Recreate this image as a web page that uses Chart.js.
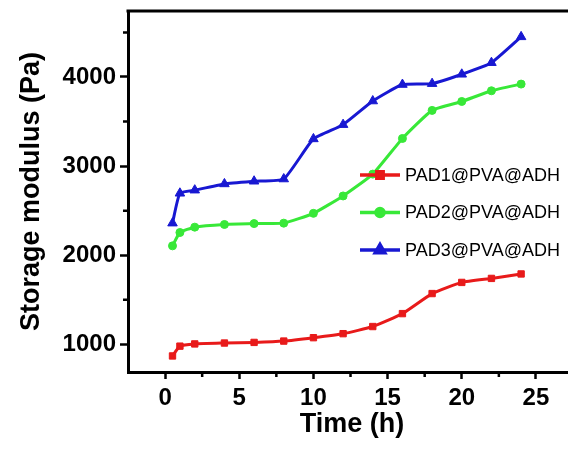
<!DOCTYPE html>
<html>
<head>
<meta charset="utf-8">
<script src="https://cdn.jsdelivr.net/npm/chart.js@4"></script>
<style>
  html, body { margin: 0; padding: 0; background: #fff; overflow: hidden; }
  canvas { display: block; }
</style>
</head>
<body>
<canvas id="myChart" width="620" height="450"></canvas>
<script>
  const time = [0.5, 1, 2, 4, 6, 8, 10, 12, 14, 16, 18, 20, 22, 24];
  const pad1 = [870, 980, 1005, 1015, 1022, 1037, 1075, 1120, 1200, 1345, 1570, 1695, 1740, 1790];
  const pad2 = [2105, 2255, 2315, 2345, 2355, 2360, 2470, 2665, 2910, 3310, 3625, 3725, 3845, 3920];
  const pad3 = [2360, 2695, 2730, 2800, 2830, 2855, 3305, 3465, 3730, 3915, 3925, 4030, 4160, 4450];
  const seriesNames = ['PAD1@PVA@ADH', 'PAD2@PVA@ADH', 'PAD3@PVA@ADH'];
  const xTicks = [0, 5, 10, 15, 20, 25];
  const yTicks = [1000, 2000, 3000, 4000];

  const toPts = (ys) => time.map((t, i) => ({ x: t, y: ys[i] }));

  // minor ticks + top/right frame + legend in the middle of the plot
  const extras = {
    id: 'extras',
    afterDraw(chart) {
      const { ctx, chartArea: a, scales: { x, y } } = chart;
      ctx.save();
      ctx.fillStyle = '#000';
      ctx.fillRect(a.left - 1.5, a.top - 1.5, a.right - a.left + 3, 3);
      ctx.fillRect(a.right - 1.5, a.top - 1.5, 3, a.bottom - a.top + 3);

      ctx.strokeStyle = '#000';
      ctx.lineWidth = 2.5;
      ctx.beginPath();
      xTicks.forEach(v => {
        const m = v + 2.5;
        if (m <= x.max) {
          const px = x.getPixelForValue(m);
          ctx.moveTo(px, a.bottom);
          ctx.lineTo(px, a.bottom + 5);
        }
      });
      yTicks.forEach(v => {
        const m = v + 500;
        if (m <= y.max) {
          const py = y.getPixelForValue(m);
          ctx.moveTo(a.left, py);
          ctx.lineTo(a.left - 5, py);
        }
      });
      ctx.stroke();

      // legend
      const lx = 360, rows = [175, 212.5, 250];
      ctx.font = '18px "Liberation Sans", Arial, sans-serif';
      ctx.textBaseline = 'middle';
      chart.data.datasets.forEach((ds, i) => {
        const yy = rows[i];
        ctx.strokeStyle = ds.borderColor;
        ctx.lineWidth = 3.5;
        ctx.beginPath();
        ctx.moveTo(lx, yy);
        ctx.lineTo(lx + 40, yy);
        ctx.stroke();
        ctx.fillStyle = ds.pointBackgroundColor;
        ctx.strokeStyle = ds.borderColor;
        Chart.helpers.drawPoint(ctx, {
          pointStyle: ds.pointStyle, radius: ds.pointRadius, rotation: 0, borderWidth: 1
        }, lx + 20, yy);
        ctx.fillStyle = '#000';
        ctx.fillText(ds.label, lx + 45, yy + 1);
      });
      ctx.restore();
    }
  };

  const tickFont = { family: '"Liberation Sans", Arial, sans-serif', size: 24, weight: 'bold' };
  const titleFont = { family: '"Liberation Sans", Arial, sans-serif', size: 27, weight: 'bold' };

  new Chart(document.getElementById('myChart'), {
    type: 'line',
    data: {
      datasets: [
        { label: seriesNames[0], data: toPts(pad1), borderColor: '#e81a1a', pointBackgroundColor: '#e81a1a',
          pointStyle: 'rect', pointRadius: 4.5 },
        { label: seriesNames[1], data: toPts(pad2), borderColor: '#38e838', pointBackgroundColor: '#38e838',
          pointStyle: 'circle', pointRadius: 4 },
        { label: seriesNames[2], data: toPts(pad3), borderColor: '#1818d2', pointBackgroundColor: '#1818d2',
          pointStyle: 'triangle', pointRadius: 5.5 }
      ].map(d => Object.assign(d, { borderWidth: 3, tension: 0.15, pointBorderWidth: 1, pointBorderColor: d.borderColor }))
    },
    options: {
      responsive: false,
      animation: false,
      layout: { padding: { left: 0, top: 11, right: 44, bottom: 0 } },
      plugins: { legend: { display: false }, tooltip: { enabled: false } },
      scales: {
        x: {
          type: 'linear', min: -2.5, max: 27.7,
          afterBuildTicks: s => { s.ticks = xTicks.map(v => ({ value: v })); },
          afterFit: s => { s.height = 78; s.paddingLeft = 0; s.paddingRight = 0; },
          border: { color: '#000', width: 3 },
          grid: { drawOnChartArea: false, tickLength: 7, tickWidth: 2.5, tickColor: '#000' },
          ticks: { color: '#000', font: tickFont, padding: 5, maxRotation: 0 },
          title: { display: true, text: 'Time (h)', color: '#000', font: titleFont, padding: { top: 0, bottom: 9 } }
        },
        y: {
          min: 690, max: 4740,
          afterBuildTicks: s => { s.ticks = yTicks.map(v => ({ value: v })); },
          afterFit: s => { s.width = 128; s.paddingTop = 0; s.paddingBottom = 0; },
          border: { color: '#000', width: 3 },
          grid: { drawOnChartArea: false, tickLength: 8, tickWidth: 2.5, tickColor: '#000' },
          ticks: { color: '#000', font: tickFont, padding: 4, callback: v => String(v) },
          title: { display: true, text: 'Storage modulus (Pa)', color: '#000', font: titleFont, padding: { top: 15, bottom: 0 } }
        }
      }
    },
    plugins: [extras]
  });
</script>
</body>
</html>
